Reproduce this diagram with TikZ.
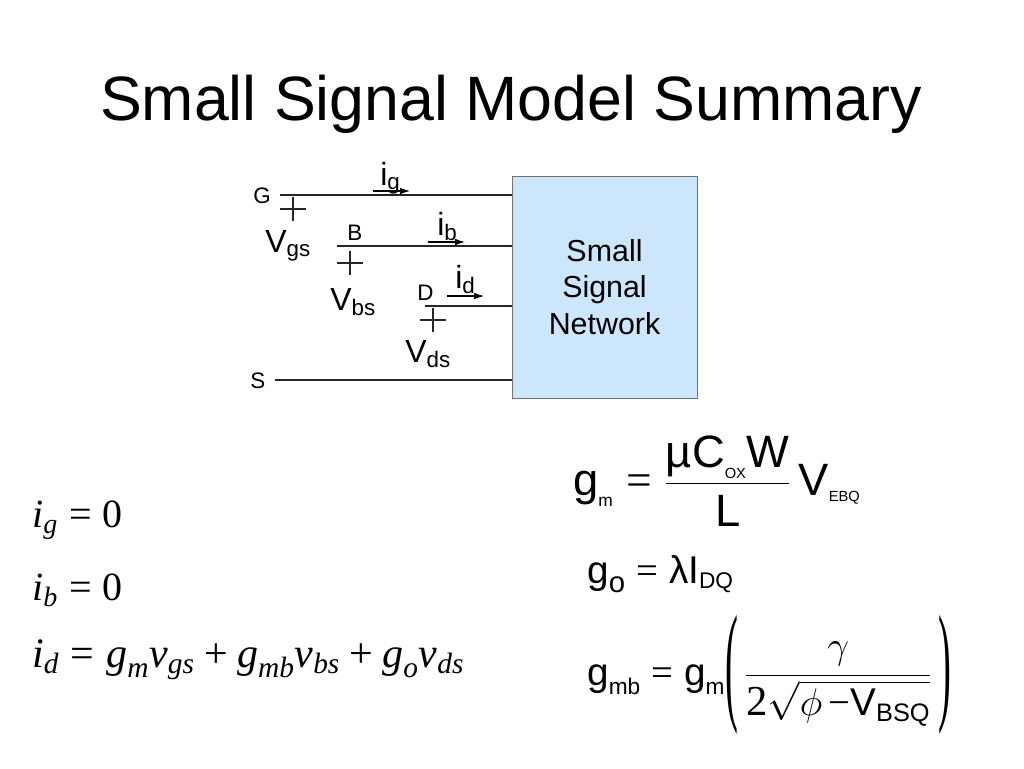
\RequirePackage{fix-cm}
\documentclass[tikz,border=0pt]{standalone}
\usepackage{amsmath}
\usepackage{graphicx}
\usepackage{fontspec}
\setmainfont{Liberation Sans}
\newfontfamily\tms{Liberation Serif}
\usepackage {tikz}
\usetikzlibrary {positioning}
\usetikzlibrary{arrows.meta}
\tikzset{edge/.style = {-{Latex[length=7.5pt,width=5pt]},line width=0.8pt}}
\definecolor{netblue}{RGB}{204,231,252}
\newcommand\tv[1]{\text{\itshape #1}}
\newcommand\sv[1]{\text{#1}}
\newcommand\sz[2]{\text{\fontsize{#1}{#1}\selectfont #2}}
\newcommand\teq{\mathrel{\text{\tms=}}}
\newcommand\tplus{\mathbin{\text{\tms+}}}
\newcommand\tallparen[1]{\raisebox{-16pt}{\scalebox{1}[3.4]{\tms #1}}}

\begin{document}
\begin{tikzpicture}[x=0.75pt,y=-0.75pt,
  txt/.style={inner sep=0pt,anchor=base west},
  pin/.style={txt,font=\fontsize{16.8}{20}\selectfont},
  lbl/.style={txt,font=\fontsize{24}{29}\selectfont},
  eqn/.style={txt,font=\fontsize{29}{35}\selectfont},
  lhs/.style={txt,font=\tms\fontsize{30}{36}\selectfont},
  wire/.style={line width=0.8pt,black!85}]
\useasboundingbox (0,0) rectangle (1024,768);
\node[anchor=base,inner sep=0pt,font=\fontsize{47}{56}\selectfont] (title) at (511,120) {Small Signal Model Summary};
% network block
\node[draw=black!55,fill=netblue,minimum width=138.75pt,minimum height=166.5pt,
  align=center,font=\fontsize{22.8}{27.3}\selectfont] (net) at (604.5,287) {Small\\Signal\\Network};
% terminals
\coordinate (g) at (280,195);
\coordinate (b) at (337,246);
\coordinate (d) at (425,306);
\coordinate (s) at (275,380);
\foreach \t in {g,b,d,s}
  \draw[wire] (\t) -- (\t -| net.west);
\node[pin] (G) at (253,203) {G};
\node[pin] (B) at (347,240) {B};
\node[pin] (D) at (417,300) {D};
\node[pin] (S) at (250,388) {S};
% plus marks
\foreach \x/\y in {293/209,350/263,433/320}
  \draw[wire] (\x-13,\y) -- (\x+13,\y) (\x,\y-12) -- (\x,\y+12);
\node[lbl] (vgs) at (265,252) {$\sv{V}_{\sv{gs}}$};
\node[lbl] (vbs) at (330,310) {$\sv{V}_{\sv{bs}}$};
\node[lbl] (vds) at (405,362) {$\sv{V}_{\sv{ds}}$};
% currents
\coordinate (ig1) at (373,191); \coordinate (ig2) at (410,191);
\coordinate (ib1) at (428,242); \coordinate (ib2) at (465,242);
\coordinate (id1) at (447,296); \coordinate (id2) at (484,296);
\draw[edge] (ig1) -- (ig2);
\draw[edge] (ib1) -- (ib2);
\draw[edge] (id1) -- (id2);
\node[lbl] (ig) at (380,185) {$\sv{i}_{\sv{g}}$};
\node[lbl] (ib) at (437,235) {$\sv{i}_{\sv{b}}$};
\node[lbl] (id) at (455,288) {$\sv{i}_{\sv{d}}$};
% equations
\node[lhs] (eg) at (32,527) {$\tv{i}_{\tv{g}} \teq \sv{0}$};
\node[lhs] (eb) at (32,600) {$\tv{i}_{\tv{b}} \teq \sv{0}$};
\node[lhs,font=\tms\fontsize{31.5}{38}\selectfont] (ed) at (32,667)
  {$\tv{i}_{\tv{d}} \teq \tv{g}_{\tv{m}}\tv{v}_{\tv{gs}} \tplus \tv{g}_{\tv{mb}}\tv{v}_{\tv{bs}} \tplus \tv{g}_{\tv{o}}\tv{v}_{\tv{ds}}$};
\node[eqn,font=\fontsize{34}{40}\selectfont] (gm) at (573,495)
  {$\sv{g}_{\sz{13}{m}} \teq \dfrac{\raisebox{-3pt}{$\sv{µC}_{\sz{11}{OX}}\sv{W}$}}{\sv{L}}\,\sv{V}_{\sz{11}{EBQ}}$};
\node[eqn] (go) at (587,583) {$\sv{g}_{\sz{22}{o}} \teq \sv{λI}_{\sz{17}{DQ}}$};
\node[eqn] (gmb) at (587,685)
  {$\sv{g}_{\sz{17}{mb}} \teq \sv{g}_{\sz{17}{m}}\tallparen{(}\,\dfrac{\gamma}{\sz{32}{\tms 2}\sqrt{\smash[b]{\phi\,\text{\tms −}\sv{V}_{\sz{19}{BSQ}}}}}\,\tallparen{)}$};
\end{tikzpicture}
\end{document}
